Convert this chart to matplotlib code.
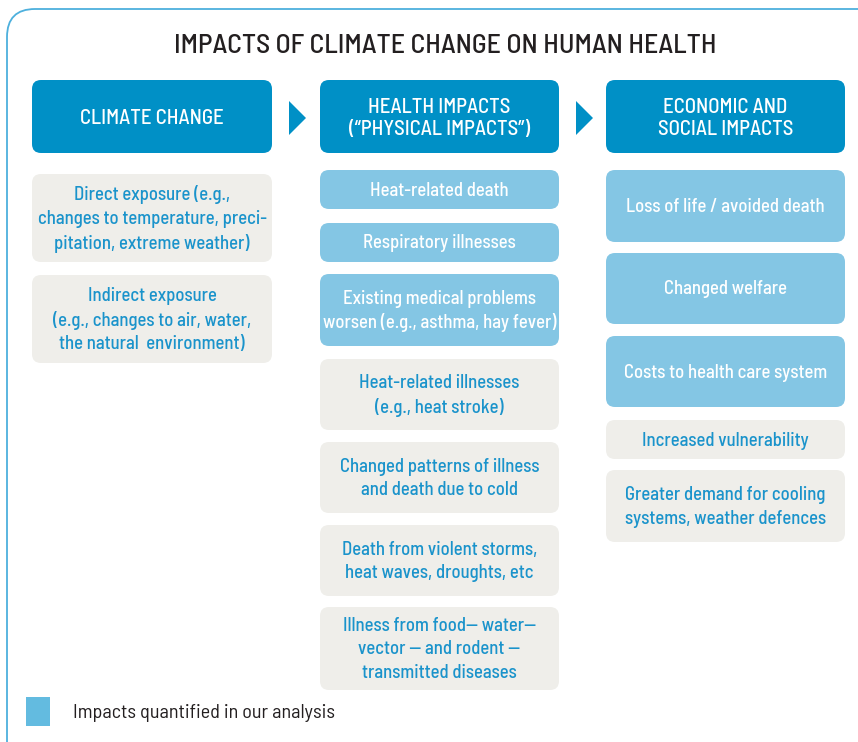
import matplotlib
matplotlib.use("Agg")
import matplotlib.pyplot as plt
from matplotlib.patches import FancyBboxPatch, Polygon, Rectangle

FONT = ["Barlow Semi Condensed", "DejaVu Sans"]
plt.rcParams['font.family'] = FONT

title = "IMPACTS OF CLIMATE CHANGE ON HUMAN HEALTH"
headers = ["CLIMATE CHANGE", "HEALTH IMPACTS\n(\u201cPHYSICAL IMPACTS\u201d)", "ECONOMIC AND\nSOCIAL IMPACTS"]

col1_texts = ["Direct exposure (e.g.,\nchanges to temperature, preci-\npitation, extreme weather)",
              "Indirect exposure\n(e.g., changes to air, water,\nthe natural  environment)"]
col1_quant = [False, False]
col1_y = [(174, 262), (275, 363)]

col2_texts = ["Heat-related death", "Respiratory illnesses",
              "Existing medical problems\nworsen (e.g., asthma, hay fever)",
              "Heat-related illnesses\n(e.g., heat stroke)",
              "Changed patterns of illness\nand death due to cold",
              "Death from violent storms,\nheat waves, droughts, etc",
              "Illness from food\u2014 water\u2014\nvector \u2014 and rodent \u2014\ntransmitted diseases"]
col2_quant = [True, True, True, False, False, False, False]
col2_y = [(170, 209), (223, 262), (274, 346), (359, 430), (442, 513), (525, 596), (607, 690)]

col3_texts = ["Loss of life / avoided death", "Changed welfare", "Costs to health care system",
              "Increased vulnerability", "Greater demand for cooling\nsystems, weather defences"]
col3_quant = [True, True, True, False, False]
col3_y = [(170, 242), (253, 324), (336, 407), (420, 459), (470, 542)]

legend_label = "Impacts quantified in our analysis"

DARK = "#0090C6"
LIGHT = "#84C6E4"
GREY = "#EFEEEA"
TXTBLUE = "#1A93CB"
BORDER = "#4DB0DD"

W, H = 858, 742
fig = plt.figure(figsize=(W / 100, H / 100), dpi=100)
ax = fig.add_axes([0, 0, 1, 1])
ax.set_xlim(0, W)
ax.set_ylim(H, 0)
ax.axis("off")

# outer border
ax.add_patch(FancyBboxPatch((7, 9), 880, 760, boxstyle="round,pad=0,rounding_size=28",
                            fc="white", ec=BORDER, lw=1.3))

ax.text(445, 46, title, ha="center", va="center", fontsize=20, color="#231F20",
        weight="medium")

cols_x = [(32, 272), (320, 559), (606, 845)]


def rbox(x0, x1, y0, y1, fc, r=9):
    ax.add_patch(FancyBboxPatch((x0, y0), x1 - x0, y1 - y0,
                                boxstyle=f"round,pad=0,rounding_size={r}",
                                fc=fc, ec="none"))


for (x0, x1), h in zip(cols_x, headers):
    rbox(x0, x1, 80, 153, DARK)
    ax.text((x0 + x1) / 2, 118.5, h, ha="center", va="center", fontsize=15,
            color="white", linespacing=1.25, weight="medium")

for ax0 in [289, 576]:
    ax.add_patch(Polygon([(ax0, 101), (ax0 + 17, 118), (ax0, 135)], closed=True,
                         fc=DARK, ec="none"))

for (x0, x1), texts, quants, ys in zip(cols_x,
                                       [col1_texts, col2_texts, col3_texts],
                                       [col1_quant, col2_quant, col3_quant],
                                       [col1_y, col2_y, col3_y]):
    for t, q, (y0, y1) in zip(texts, quants, ys):
        rbox(x0, x1, y0, y1, LIGHT if q else GREY)
        ax.text((x0 + x1) / 2, (y0 + y1) / 2 + 1, t, ha="center", va="center",
                fontsize=13.5, color="white" if q else TXTBLUE, linespacing=1.4,
                weight="medium")

ax.add_patch(Rectangle((26, 697), 24, 29, fc="#63BBE0", ec="none"))
ax.text(73, 713, legend_label, ha="left", va="center", fontsize=14.5, color="#231F20")

fig.savefig("out.png", dpi=100)
